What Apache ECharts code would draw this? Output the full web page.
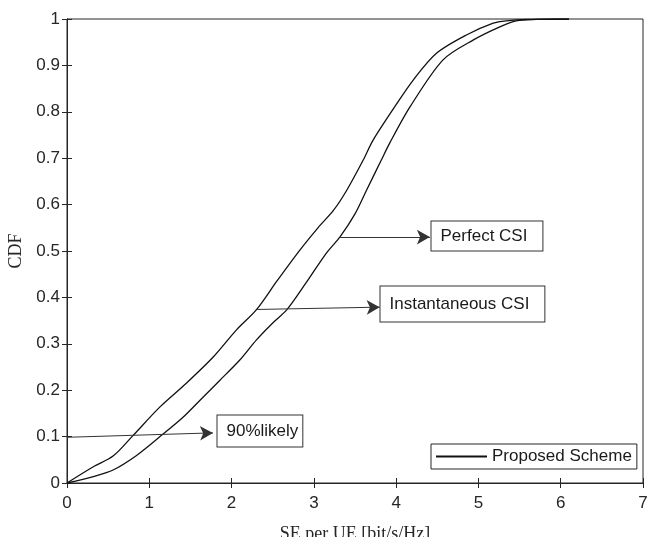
<!DOCTYPE html>
<html>
<head>
<meta charset="utf-8">
<script src="https://cdn.jsdelivr.net/npm/echarts@6/dist/echarts.min.js"></script>
<style>
  html, body { margin: 0; padding: 0; background: #fff; }
  #chart { width: 647px; height: 537px; }
</style>
</head>
<body>
<div id="chart"></div>
<script>
// CDF curves, [SE, CDF]
var perfectCsi = [
  [0, 0], [0.32, 0.035], [0.56, 0.058], [0.79, 0.10], [1.13, 0.164], [1.45, 0.215],
  [1.78, 0.272], [2.06, 0.33], [2.30, 0.373], [2.55, 0.435], [2.83, 0.502], [3.05, 0.55],
  [3.24, 0.588], [3.40, 0.631], [3.60, 0.696], [3.72, 0.739], [4.01, 0.818], [4.21, 0.869],
  [4.49, 0.926], [4.86, 0.966], [5.18, 0.991], [5.34, 0.996], [5.6, 0.999], [6.1, 1.0]
];
var instantCsi = [
  [0, 0], [0.32, 0.014], [0.56, 0.028], [0.85, 0.06], [1.13, 0.10], [1.40, 0.14],
  [1.62, 0.179], [1.85, 0.22], [2.10, 0.265], [2.30, 0.308], [2.50, 0.345], [2.67, 0.373],
  [2.90, 0.43], [3.15, 0.495], [3.32, 0.531], [3.50, 0.58], [3.64, 0.631], [3.82, 0.696],
  [3.92, 0.732], [4.17, 0.811], [4.57, 0.912], [4.94, 0.955], [5.26, 0.983], [5.46, 0.996],
  [5.7, 0.999], [6.1, 1.0]
];
var xTicks = [0, 1, 2, 3, 4, 5, 6, 7];
var yTicks = [0, 0.1, 0.2, 0.3, 0.4, 0.5, 0.6, 0.7, 0.8, 0.9, 1];

// arrows: from -> to, in data units
var arrows = [
  [[0, 0.0985], [1.774, 0.108]],
  [[2.31, 0.374], [3.80, 0.379]],
  [[3.32, 0.530], [4.41, 0.530]]
];
// text boxes: label and top-left corner, in data units
var boxLabels = ['90%likely', 'Instantaneous CSI', 'Perfect CSI'];
var boxCorners = [[1.82, 0.147], [3.80, 0.425], [4.42, 0.565]];
var boxPadding = [[7, 4, 7, 9], [9, 15, 9, 9], [6, 15, 6, 9]];

var ink = '#262626';
var chart = echarts.init(document.getElementById('chart'));

var axisCommon = {
  type: 'value',
  splitLine: { show: false },
  axisLine: { show: true, lineStyle: { color: ink, width: 1 } },
  axisTick: { show: true, inside: true, length: 5, lineStyle: { color: ink } }
};

var curveStyle = {
  type: 'line', showSymbol: false, symbol: 'none',
  smooth: 0.3,
  lineStyle: { color: '#111', width: 1.3 }, itemStyle: { color: '#111' }
};

var option = {
  animation: false,
  backgroundColor: '#fff',
  grid: {
    left: 67, right: 4, top: 19, bottom: 54,
    outerBoundsMode: 'none', containLabel: false,
    show: true, borderColor: ink, borderWidth: 1
  },
  xAxis: [
    Object.assign({}, axisCommon, {
      min: xTicks[0], max: xTicks[xTicks.length - 1], interval: 1,
      name: 'SE per UE [bit/s/Hz]', nameLocation: 'middle', nameGap: 42,
      nameTextStyle: { fontFamily: 'Liberation Serif', fontSize: 18, color: ink },
      axisLabel: { margin: 12, fontFamily: 'Liberation Sans', fontSize: 17, color: ink }
    }),
    Object.assign({}, axisCommon, {
      position: 'top', min: xTicks[0], max: xTicks[xTicks.length - 1], interval: 1,
      axisLabel: { show: false }
    })
  ],
  yAxis: [
    Object.assign({}, axisCommon, {
      min: yTicks[0], max: yTicks[yTicks.length - 1], interval: 0.1,
      name: 'CDF', nameLocation: 'middle', nameGap: 40, nameRotate: 90,
      nameTextStyle: { fontFamily: 'Liberation Serif', fontSize: 18, color: ink },
      axisLabel: { margin: 7, fontFamily: 'Liberation Sans', fontSize: 17, color: ink }
    }),
    Object.assign({}, axisCommon, {
      position: 'right', min: yTicks[0], max: yTicks[yTicks.length - 1], interval: 0.1,
      axisLabel: { show: false }
    })
  ],
  legend: {
    left: 431, top: 444,
    padding: [4, 5, 4, 5],
    itemWidth: 51, itemHeight: 2, itemGap: 0,
    borderColor: ink, borderWidth: 1, borderRadius: 0,
    backgroundColor: '#fff',
    icon: 'rect',
    textStyle: { fontFamily: 'Liberation Sans', fontSize: 17, color: '#1a1a1a' },
    data: ['Proposed Scheme']
  },
  series: [
    Object.assign({}, curveStyle, {
      name: 'Proposed Scheme', data: perfectCsi,
      markLine: {
        silent: true, symbol: ['none', 'arrow'], symbolSize: [11, 13],
        label: { show: false },
        lineStyle: { color: '#333', width: 1, type: 'solid' },
        itemStyle: { color: '#111' },
        data: arrows.map(function (a) { return [{ coord: a[0] }, { coord: a[1] }]; })
      }
    }),
    Object.assign({}, curveStyle, { name: 'Proposed Scheme', data: instantCsi })
  ]
};
chart.setOption(option);

// annotation boxes anchored in data space
var boxes = boxLabels.map(function (txt, i) {
  var p = chart.convertToPixel({ xAxisIndex: 0, yAxisIndex: 0 }, boxCorners[i]);
  return {
    type: 'text', x: Math.round(p[0]) + 0.5, y: Math.round(p[1]) + 0.5, z: 100,
    style: {
      text: txt, fontFamily: 'Liberation Sans', fontSize: 17, fill: '#1a1a1a',
      backgroundColor: '#fff', borderColor: '#333', borderWidth: 1,
      padding: boxPadding[i]
    }
  };
});
chart.setOption({ graphic: boxes });
</script>
</body>
</html>
